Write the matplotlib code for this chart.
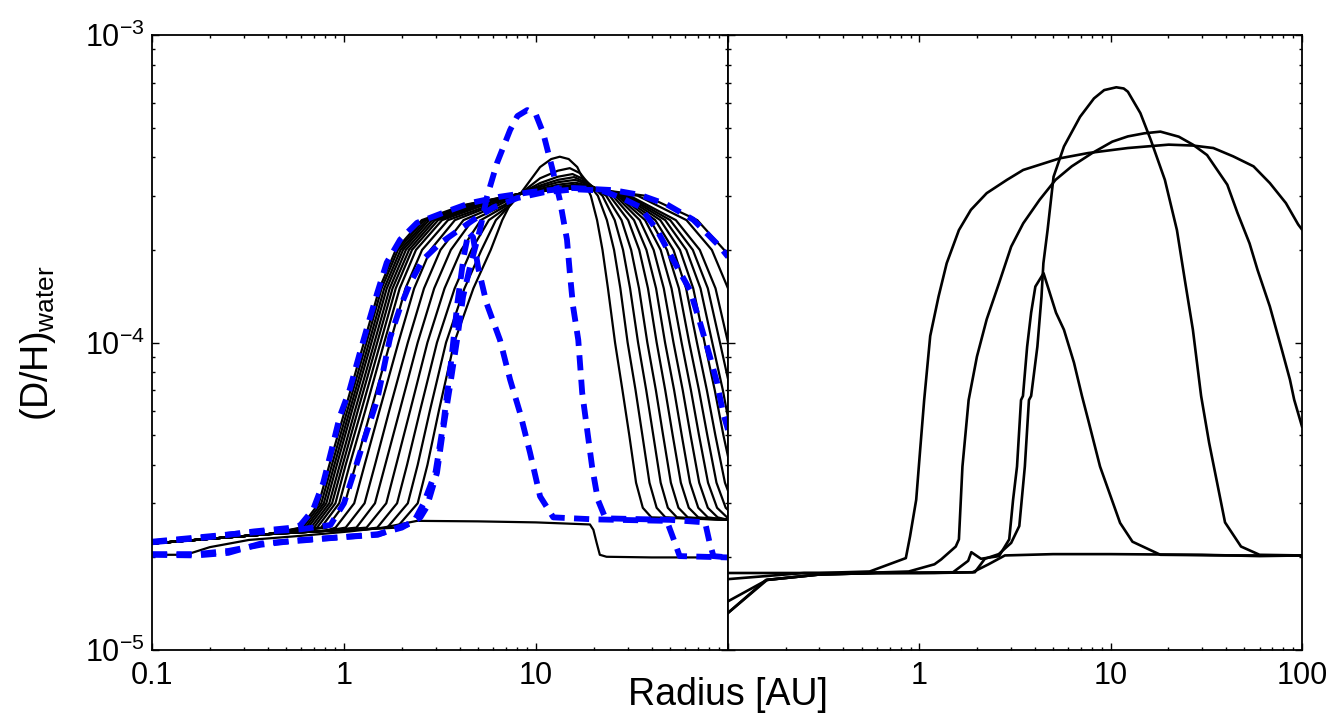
import matplotlib
matplotlib.use('Agg')
import matplotlib.pyplot as plt
from matplotlib.ticker import LogLocator, NullFormatter, FixedLocator, FixedFormatter

plt.rcParams['font.family'] = ['Liberation Sans', 'DejaVu Sans']
plt.rcParams['mathtext.fontset'] = 'custom'
plt.rcParams['mathtext.rm'] = 'Liberation Sans'
plt.rcParams['mathtext.it'] = 'Liberation Sans:italic'
plt.rcParams['mathtext.default'] = 'regular'

# ---------------- Left panel : black model curves ----------------
BASE_R = [0.1, 0.2, 0.4, 0.8, 1.3]
BASE_V = [2.22e-5, 2.30e-5, 2.38e-5, 2.44e-5, 2.47e-5]

RISE_V = [2.5e-5, 3.0e-5, 4.0e-5, 6.0e-5, 1.0e-4, 1.5e-4, 2.0e-4, 2.5e-4, 2.8e-4]
RISE_R = [
    [1.88, 2.42, 2.72, 3.12, 3.75, 4.72, 5.81, 6.67, 7.31],
    [1.68, 2.15, 2.42, 2.80, 3.40, 4.24, 5.20, 6.18, 7.36],
    [1.49, 1.89, 2.13, 2.49, 3.05, 3.77, 4.61, 5.68, 7.35],
    [1.31, 1.66, 1.87, 2.21, 2.72, 3.34, 4.08, 5.16, 7.11],
    [1.16, 1.45, 1.64, 1.95, 2.42, 2.95, 3.60, 4.67, 6.84],
    [1.02, 1.28, 1.45, 1.72, 2.15, 2.61, 3.18, 4.19, 6.40],
    [0.904, 1.13, 1.28, 1.53, 1.92, 2.32, 2.82, 3.78, 6.03],
    [0.815, 1.01, 1.15, 1.38, 1.74, 2.09, 2.55, 3.48, 5.77],
    [0.759, 0.944, 1.07, 1.29, 1.62, 1.95, 2.37, 3.24, 5.37],
    [0.724, 0.902, 1.02, 1.23, 1.55, 1.86, 2.26, 3.09, 5.13],
    [0.697, 0.867, 0.984, 1.18, 1.49, 1.79, 2.18, 2.97, 4.93],
    [0.673, 0.838, 0.951, 1.14, 1.44, 1.73, 2.10, 2.87, 4.76],
    [0.650, 0.809, 0.918, 1.10, 1.39, 1.67, 2.03, 2.77, 4.60],
    [0.631, 0.785, 0.891, 1.07, 1.35, 1.62, 1.97, 2.69, 4.47],
    [0.612, 0.762, 0.865, 1.04, 1.31, 1.57, 1.91, 2.61, 4.34],
    [0.594, 0.740, 0.839, 1.01, 1.27, 1.53, 1.86, 2.54, 4.21],
]
CROSS_R = 8.3
CROSS_V = 3.05e-4

TOP_R = [
    [10.5, 12.0, 13.3, 14.8, 16.4],
    [10.5, 13.0, 15.0, 17.0],
    [10.5, 13.0, 15.5, 18.0],
    [10.5, 13.0, 15.8, 18.5],
    [10.5, 13.0, 16.0, 19.0],
    [10.5, 13.0, 16.0, 19.5],
    [10.5, 13.0, 16.0, 20.0],
    [10.5, 13.0, 16.0, 20.0],
] + [[10.5, 13.0, 16.0, 20.0]] * 8
TOP_V = [
    [3.72e-4, 3.95e-4, 4.02e-4, 3.95e-4, 3.72e-4],
    [3.42e-4, 3.62e-4, 3.69e-4, 3.55e-4],
    [3.30e-4, 3.46e-4, 3.53e-4, 3.38e-4],
    [3.24e-4, 3.38e-4, 3.45e-4, 3.30e-4],
    [3.20e-4, 3.32e-4, 3.38e-4, 3.25e-4],
    [3.16e-4, 3.26e-4, 3.31e-4, 3.22e-4],
    [3.14e-4, 3.21e-4, 3.26e-4, 3.20e-4],
    [3.12e-4, 3.18e-4, 3.22e-4, 3.18e-4],
] + [[3.10e-4, 3.15e-4, 3.18e-4, 3.16e-4]] * 8

FALL_V = [3.0e-4, 2.5e-4, 2.0e-4, 1.5e-4, 1.0e-4, 7.0e-5, 5.0e-5, 3.5e-5, 2.9e-5, 2.7e-5]
FALL_R = [
    [19.3, 20.8, 22.2, 23.7, 25.8, 28.2, 30.6, 33.2, 36.0, 39.9],
    [21.0, 23.4, 25.5, 27.5, 30.0, 33.0, 35.8, 39.0, 42.5, 47.2],
    [22.2, 25.7, 28.4, 30.9, 34.0, 37.5, 40.8, 44.6, 48.6, 54.2],
    [23.2, 27.9, 31.3, 34.4, 38.0, 42.1, 45.9, 50.4, 55.2, 61.7],
    [24.2, 30.2, 34.5, 38.3, 42.5, 47.1, 51.5, 56.8, 62.5, 70.0],
    [25.1, 32.4, 37.6, 42.2, 47.0, 52.4, 57.4, 63.4, 70.0, 78.5],
    [25.9, 34.7, 41.0, 46.3, 52.0, 58.1, 63.8, 70.8, 78.5, 88.3],
    [26.6, 37.0, 44.6, 50.8, 57.3, 64.1, 70.6, 78.7, 87.7, 98.9],
    [27.3, 39.4, 48.1, 55.5, 62.8, 70.6, 78.0, 87.1, 97.3, 110.0],
    [27.9, 41.8, 52.0, 60.5, 68.9, 77.6, 85.9, 96.4, 108.0, 122.0],
    [28.6, 44.4, 56.2, 65.9, 75.5, 85.3, 94.6, 107.0, 120.0, 136.0],
    [29.3, 47.1, 60.7, 71.9, 82.8, 94.0, 104.0, 118.0, 133.0, 152.0],
    [30.0, 50.0, 65.6, 78.5, 90.8, 103.0, 115.0, 131.0, 148.0, 169.0],
    [30.8, 53.5, 71.3, 86.1, 100.0, 114.0, 127.0, 145.0, 166.0, 189.0],
    [33.9, 60.8, 82.4, 100.0, 117.0, 135.0, 151.0, 172.0, 197.0, 225.0],
    [37.2, 69.2, 95.5, 117.0, 138.0, 158.0, 178.0, 204.0, 234.0, 269.0],
]
FLOOR_R = 100.0
FLOOR_V = 2.65e-5

# black "initial" flat curve
BF_R = [0.1, 0.15, 0.2, 0.32, 0.59, 1.07, 1.6, 2.0, 2.4, 5.0, 10.0, 19.1, 19.9, 20.7, 21.5, 23.3, 40.0, 100.0]
BF_V = [2.04e-5, 2.04e-5, 2.16e-5, 2.28e-5, 2.35e-5, 2.43e-5, 2.50e-5, 2.57e-5, 2.63e-5, 2.62e-5, 2.60e-5,
        2.56e-5, 2.46e-5, 2.23e-5, 2.04e-5, 2.01e-5, 2.0e-5, 2.0e-5]

# ---------------- Left panel : blue dashed curves ----------------
C_R = [0.1, 0.2, 0.34, 0.54, 0.59, 0.69, 0.78, 0.88, 0.95, 1.07, 1.21, 1.32, 1.49, 1.67, 1.96, 2.40, 3.28,
       4.53, 6.5, 9.6, 15.6, 25.2, 34.8, 48.1, 65.8, 90.8, 100.0]
C_V = [2.24e-5, 2.33e-5, 2.43e-5, 2.50e-5, 2.54e-5, 2.86e-5, 3.50e-5, 4.72e-5, 5.74e-5, 7.02e-5, 9.26e-5,
       1.12e-4, 1.45e-4, 1.82e-4, 2.16e-4, 2.45e-4, 2.64e-4, 2.84e-4, 2.98e-4, 3.09e-4, 3.18e-4, 3.13e-4,
       3.02e-4, 2.81e-4, 2.51e-4, 2.05e-4, 1.90e-4]

D_R = [0.1, 0.3, 0.6, 0.85, 1.0, 1.13, 1.26, 1.36, 1.49, 1.74, 1.96, 2.21, 2.58, 3.16, 3.88, 4.7, 6.0, 8.0,
       11.0, 16.0, 22.0, 28.0, 34.8, 42.7, 51.7, 63.4, 71.5, 80.5, 87.7, 94.2, 100.0]
D_V = [2.25e-5, 2.40e-5, 2.47e-5, 2.55e-5, 3.0e-5, 3.8e-5, 4.72e-5, 5.48e-5, 6.52e-5, 1.04e-4, 1.30e-4,
       1.56e-4, 1.86e-4, 2.10e-4, 2.30e-4, 2.50e-4, 2.75e-4, 2.95e-4, 3.08e-4, 3.15e-4, 3.12e-4, 2.95e-4,
       2.76e-4, 2.32e-4, 1.86e-4, 1.48e-4, 1.16e-4, 9.0e-5, 7.4e-5, 5.91e-5, 5.2e-5]

A_R = [0.1, 0.17, 0.25, 0.37, 0.6, 1.0, 1.5, 2.0, 2.5, 2.7, 3.05, 3.28, 3.56, 3.88, 4.17, 4.53, 5.1, 5.56,
       6.27, 7.33, 8.0, 9.0, 10.0, 10.9, 12.1, 13.3, 14.5, 15.0, 15.6, 16.6, 17.4, 19.6, 21.0, 23.0, 50.0,
       76.0, 80.0, 84.0, 100.0]
A_V = [2.04e-5, 2.03e-5, 2.07e-5, 2.22e-5, 2.27e-5, 2.33e-5, 2.38e-5, 2.50e-5, 2.70e-5, 2.92e-5, 3.77e-5,
       5.2e-5, 7.18e-5, 1.02e-4, 1.41e-4, 1.76e-4, 2.32e-4, 2.98e-4, 3.84e-4, 4.91e-4, 5.45e-4, 5.70e-4,
       5.50e-4, 4.80e-4, 3.72e-4, 2.91e-4, 2.16e-4, 1.69e-4, 1.31e-4, 1.02e-4, 6.87e-5, 3.94e-5, 3.08e-5,
       2.68e-5, 2.65e-5, 2.60e-5, 2.25e-5, 2.02e-5, 2.0e-5]

B_R = [0.1, 0.17, 0.25, 0.37, 0.6, 1.0, 1.5, 1.8, 2.3, 2.6, 3.0, 3.3, 3.6, 3.9, 4.2, 4.45, 4.7, 5.0, 5.53,
       6.49, 7.33, 8.26, 9.31, 10.5, 12.3, 20.0, 48.0, 52.0, 56.0, 100.0]
B_V = [2.05e-5, 2.05e-5, 2.10e-5, 2.20e-5, 2.28e-5, 2.33e-5, 2.37e-5, 2.47e-5, 2.60e-5, 3.0e-5, 3.8e-5,
       5.5e-5, 8.5e-5, 1.35e-4, 1.90e-4, 2.28e-4, 2.2e-4, 1.75e-4, 1.34e-4, 1.02e-4, 7.57e-5, 5.9e-5,
       4.38e-5, 3.16e-5, 2.70e-5, 2.66e-5, 2.63e-5, 2.30e-5, 2.02e-5, 2.0e-5]

# ---------------- Right panel : black curves ----------------
R0_R = [0.1, 0.158, 0.3, 0.6, 1.0, 1.9, 2.3, 2.8, 5.0, 10.0, 30.0, 60.0, 100.0]
R0_V = [1.32e-5, 1.69e-5, 1.76e-5, 1.78e-5, 1.78e-5, 1.79e-5, 1.90e-5, 2.03e-5, 2.05e-5, 2.05e-5, 2.04e-5,
        2.02e-5, 2.03e-5]

R1_R = [0.1, 0.16, 0.3, 0.6, 1.2, 1.95, 2.2, 2.6, 3.02, 3.33, 3.56, 3.74, 3.84, 4.14, 4.35, 4.45, 4.68, 5.03,
        5.7, 6.92, 8.18, 9.25, 10.7, 11.7, 12.3, 14.3, 16.2, 19.2, 22.2, 24.4, 26.9, 29.7, 32.7, 36.0, 39.6,
        48.0, 60.0, 100.0]
R1_V = [1.44e-5, 1.69e-5, 1.76e-5, 1.78e-5, 1.78e-5, 1.79e-5, 1.98e-5, 2.05e-5, 2.23e-5, 2.53e-5, 3.95e-5,
        6.5e-5, 6.7e-5, 9.7e-5, 1.41e-4, 1.81e-4, 2.32e-4, 3.46e-4, 4.34e-4, 5.42e-4, 6.22e-4, 6.62e-4,
        6.76e-4, 6.70e-4, 6.54e-4, 5.57e-4, 4.56e-4, 3.38e-4, 2.32e-4, 1.60e-4, 1.10e-4, 6.7e-5, 4.72e-5,
        3.5e-5, 2.6e-5, 2.17e-5, 2.04e-5, 2.03e-5]

R2_R = [0.1, 0.25, 0.5, 0.88, 1.2, 1.3, 1.55, 1.61, 1.68, 1.81, 2.0, 2.25, 2.61, 3.02, 3.49, 4.25, 5.15,
        6.26, 8.0, 10.2, 12.3, 15.0, 18.2, 22.7, 26.9, 31.9, 40.7, 46.0, 53.2, 58.6, 67.9, 78.5, 86.5, 91.0,
        100.0]
R2_V = [1.70e-5, 1.78e-5, 1.78e-5, 1.80e-5, 1.90e-5, 1.97e-5, 2.17e-5, 2.29e-5, 3.95e-5, 6.5e-5, 9.0e-5,
        1.19e-4, 1.56e-4, 2.05e-4, 2.44e-4, 2.91e-4, 3.38e-4, 3.74e-4, 4.13e-4, 4.50e-4, 4.68e-4, 4.79e-4,
        4.85e-4, 4.67e-4, 4.40e-4, 4.07e-4, 3.26e-4, 2.64e-4, 2.10e-4, 1.72e-4, 1.31e-4, 9.46e-5, 7.57e-5,
        6.52e-5, 5.33e-5]

R3_R = [0.1, 0.3, 0.55, 0.85, 0.894, 0.963, 1.01, 1.06, 1.14, 1.26, 1.39, 1.61, 1.86, 2.25, 2.87, 3.49,
        5.41, 7.6, 12.3, 20.1, 26.9, 34.4, 43.7, 55.8, 67.9, 82.4, 95.5, 100.0]
R3_V = [1.78e-5, 1.78e-5, 1.80e-5, 1.99e-5, 2.34e-5, 3.08e-5, 4.48e-5, 6.5e-5, 1.05e-4, 1.41e-4, 1.81e-4,
        2.32e-4, 2.70e-4, 3.06e-4, 3.38e-4, 3.64e-4, 3.97e-4, 4.13e-4, 4.29e-4, 4.40e-4, 4.37e-4, 4.29e-4,
        4.03e-4, 3.74e-4, 3.30e-4, 2.84e-4, 2.42e-4, 2.33e-4]

R4_R = [0.1, 0.16, 0.3, 0.6, 1.5, 1.8, 1.87, 2.1, 2.61, 2.95, 3.09, 3.24, 3.40, 3.48, 3.66, 3.84, 4.04, 4.46,
        5.18, 5.7, 6.43, 7.08, 7.63, 8.8, 11.2, 13.0, 18.2, 40.0, 100.0]
R4_V = [1.32e-5, 1.69e-5, 1.76e-5, 1.78e-5, 1.79e-5, 1.95e-5, 2.08e-5, 1.98e-5, 2.02e-5, 2.29e-5, 3.08e-5,
        3.95e-5, 6.5e-5, 6.7e-5, 9.7e-5, 1.25e-4, 1.52e-4, 1.68e-4, 1.25e-4, 1.10e-4, 8.6e-5, 6.7e-5, 5.6e-5,
        3.95e-5, 2.59e-5, 2.25e-5, 2.04e-5, 2.03e-5, 2.03e-5]

# ---------------- figure ----------------
W, H = 1335, 715
fig = plt.figure(figsize=(W / 100, H / 100), dpi=100)
ax1 = fig.add_axes([152 / W, 65 / H, 576 / W, 615 / H])
ax2 = fig.add_axes([728 / W, 65 / H, 574 / W, 615 / H])

BLK = dict(color='black', lw=1.6, solid_joinstyle='round')
DSH = dict(color='#0000ff', lw=4.2, ls=(0, (2.6, 1.6)))

for k in range(len(RISE_R)):
    rr = [r for r in BASE_R if r < 0.95 * RISE_R[k][0]]
    vv = BASE_V[:len(rr)]
    rr = rr + RISE_R[k] + [CROSS_R] + TOP_R[k] + FALL_R[k]
    vv = vv + RISE_V + [CROSS_V] + TOP_V[k] + FALL_V
    if FALL_R[k][-1] < FLOOR_R:
        rr = rr + [FLOOR_R]
        vv = vv + [FLOOR_V]
    ax1.plot(rr, vv, **BLK)
ax1.plot(BF_R, BF_V, **BLK)

for rr, vv in [(C_R, C_V), (D_R, D_V), (A_R, A_V), (B_R, B_V)]:
    ax1.plot(rr, vv, **DSH)

for rr, vv in [(R0_R, R0_V), (R1_R, R1_V), (R2_R, R2_V), (R3_R, R3_V), (R4_R, R4_V)]:
    ax2.plot(rr, vv, color='black', lw=1.9)

for ax in (ax1, ax2):
    ax.set_xscale('log')
    ax.set_yscale('log')
    ax.set_xlim(0.1, 100)
    ax.set_ylim(1e-5, 1e-3)
    ax.xaxis.set_minor_locator(LogLocator(base=10, subs=range(2, 10), numticks=20))
    ax.yaxis.set_minor_locator(LogLocator(base=10, subs=range(2, 10), numticks=20))
    ax.xaxis.set_minor_formatter(NullFormatter())
    ax.yaxis.set_minor_formatter(NullFormatter())
    ax.tick_params(which='both', direction='in', top=True, right=True, width=1.0, colors='black')
    ax.tick_params(which='major', length=5)
    ax.tick_params(which='minor', length=2.5)
    ax.tick_params(axis='x', which='major', labelsize=22, pad=8)
    ax.tick_params(axis='y', which='major', labelsize=22, pad=5)
    for s in ax.spines.values():
        s.set_linewidth(1.3)

ax1.xaxis.set_major_locator(FixedLocator([0.1, 1, 10, 100]))
ax1.xaxis.set_major_formatter(FixedFormatter(['0.1', '1', '10', '']))
ax2.xaxis.set_major_locator(FixedLocator([0.1, 1, 10, 100]))
ax2.xaxis.set_major_formatter(FixedFormatter(['', '1', '10', '100']))
ax1.yaxis.set_major_locator(FixedLocator([1e-5, 1e-4, 1e-3]))
ax1.yaxis.set_major_formatter(FixedFormatter(['$10^{-5}$', '$10^{-4}$', '$10^{-3}$']))
ax2.yaxis.set_major_locator(FixedLocator([1e-5, 1e-4, 1e-3]))
ax2.yaxis.set_major_formatter(NullFormatter())

fig.text(728 / W, 10 / H, 'Radius [AU]', ha='center', va='baseline', fontsize=27)
fig.text(38 / W, 1 - 343 / H, '(D/H)$_{water}$', rotation=90, ha='center', va='center', fontsize=27)

fig.savefig('out.png', dpi=100)
